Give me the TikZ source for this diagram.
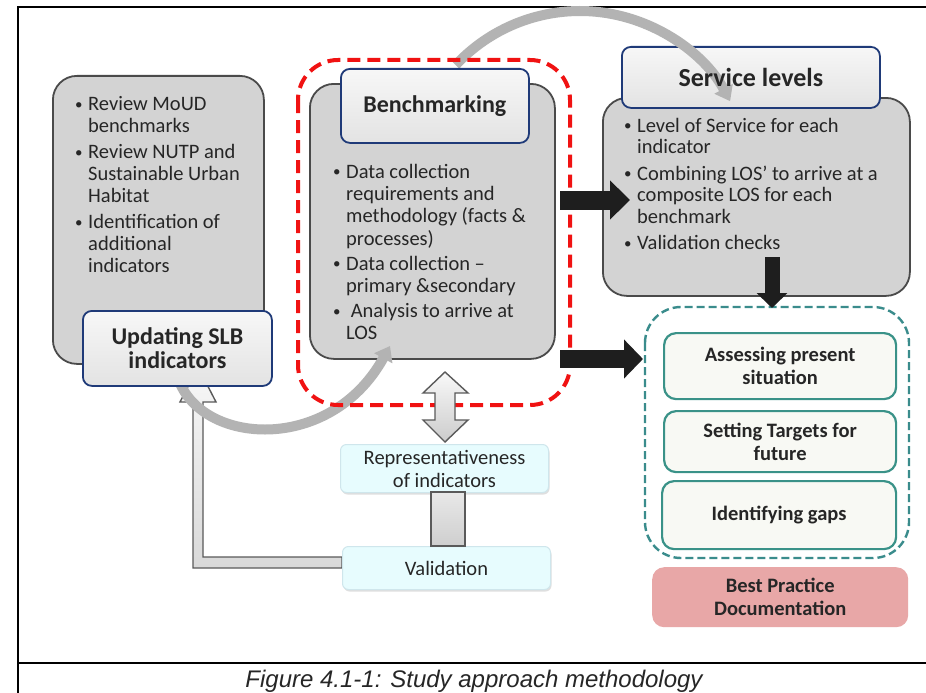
\documentclass[tikz,border=0pt]{standalone}
\usepackage{fontspec}
\setmainfont{Carlito}
\newfontfamily\capfont{Liberation Sans}
\usetikzlibrary{arrows.meta,shadows,calc}

\definecolor{boxgray}{HTML}{D3D3D3}
\definecolor{boxedge}{HTML}{4A4A4A}
\definecolor{hdrnavy}{HTML}{1F3A78}
\definecolor{hdrtop}{HTML}{F7F7F7}
\definecolor{hdrbot}{HTML}{E3E3E3}
\definecolor{stepteal}{HTML}{3A9288}
\definecolor{grpteal}{HTML}{3A8C8C}
\definecolor{stepfill}{HTML}{F8F9F4}
\definecolor{rosefill}{HTML}{E8A7A7}
\definecolor{cyanfill}{HTML}{E7FCFE}
\definecolor{cyanedge}{HTML}{CFE6EC}
\definecolor{arcgray}{HTML}{B3B3B3}
\definecolor{ink}{HTML}{262626}
\definecolor{dashred}{HTML}{F01212}
\definecolor{blockedge}{HTML}{5A5A5A}
\definecolor{arrowblack}{HTML}{1E1E1E}

% small list bullet
\newcommand{\listdot}{\raisebox{1.3pt}{\fontsize{15}{15}\selectfont\textbullet}}

\tikzset{
  every node/.style={text=ink},
  graybox/.style={draw=boxedge, line width=1.8pt, fill=boxgray, rounded corners=24pt, inner sep=0pt},
  hdrbox/.style={draw=hdrnavy, line width=1.8pt, top color=hdrtop, bottom color=hdrbot, rounded corners=9pt, inner sep=0pt, align=center},
  stepbox/.style={draw=stepteal, line width=2.2pt, fill=stepfill, rounded corners=12pt, inner sep=0pt, align=center,
    font=\bfseries\fontsize{20.5}{23}\selectfont},
  cyanbox/.style={draw=cyanedge, line width=1pt, fill=cyanfill, rounded corners=6pt, inner sep=0pt, align=center,
    drop shadow={shadow xshift=1pt, shadow yshift=-2pt, opacity=0.25},
    font=\fontsize{20.5}{23}\selectfont},
  bullets/.style={inner sep=0pt, anchor=base west},
  arcline/.style={draw=arcgray, line width=10pt, -{Triangle[width=20pt,length=14pt]}},
  reddash/.style={draw=dashred, line width=4pt, dash pattern=on 13pt off 7pt, rounded corners=40pt},
  tealdash/.style={draw=grpteal, line width=2.4pt, dash pattern=on 8pt off 4pt, rounded corners=36pt},
  blockarrow/.style={draw=blockedge, line width=1.4pt},
}

\begin{document}
\begin{tikzpicture}[x=1pt,y=-1pt]
\useasboundingbox (0,0) rectangle (926,693);
\fill[white] (0,0) rectangle (926,693);

% page frame and caption rule
\draw[line width=2.8pt] (926,7) -- (18,7) -- (18,693);
\draw[line width=2.4pt] (18,663) -- (926,663);

% ---------------- Service levels ----------------
\node[graybox, anchor=north west, minimum width=307pt, minimum height=198pt] (svcbox) at (602,97) {};
\node[hdrbox, anchor=north west, minimum width=258pt, minimum height=61pt] (svchead) at (621,46) {};

% arc from Benchmarking to Service levels
\coordinate (arcc) at (580,181);
\coordinate (arcstart) at ($(arcc)+(-137:170)$);
\draw[arcline] (arcstart) arc[start angle=-137, end angle=-28, radius=170];

\node[font=\bfseries\fontsize{26}{26}\selectfont] (svctitle) at (svchead.center) {Service levels};

\node[bullets, font=\fontsize{20.5}{21.5}\selectfont] (svclist) at (624,132) {%
\begin{tabular}[t]{@{}p{13pt}@{}l@{}}
\listdot & Level of Service for each\\
 & indicator\\[5pt]
\listdot & Combining LOS’ to arrive at a\\
 & composite LOS for each\\
 & benchmark\\[5pt]
\listdot & Validation checks
\end{tabular}};

% ---------------- Benchmarking ----------------
\node[graybox, anchor=north west, minimum width=245pt, minimum height=275pt] (benchbox) at (309,83) {};
\node[hdrbox, anchor=north west, minimum width=188pt, minimum height=74pt,
      font=\bfseries\fontsize{24}{24}\selectfont] (benchhead) at (340,68) {Benchmarking};

\node[bullets, font=\fontsize{20.5}{22.4}\selectfont] (benchlist) at (333,178) {%
\begin{tabular}[t]{@{}p{13pt}@{}l@{}}
\listdot & Data collection\\
 & requirements and\\
 & methodology (facts \&\\
 & processes)\\[2.5pt]
\listdot & Data collection –\\
 & primary \&secondary\\[2.5pt]
\listdot & \ Analysis to arrive at\\
 & LOS
\end{tabular}};

% ---------------- Updating SLB indicators ----------------
\node[graybox, anchor=north west, minimum width=211pt, minimum height=288pt] (slbbox) at (52,75) {};
\node[bullets, font=\fontsize{20.5}{22}\selectfont] (slblist) at (75,110.7) {%
\begin{tabular}[t]{@{}p{13pt}@{}l@{}}
\listdot & Review MoUD\\
 & benchmarks\\[4pt]
\listdot & Review NUTP and\\
 & Sustainable Urban\\
 & Habitat\\[4pt]
\listdot & Identification of\\
 & additional\\
 & indicators
\end{tabular}};

% feedback arrow from Validation back to Updating SLB indicators
\draw[blockarrow, top color=gray!6, bottom color=gray!30]
  (342,557) -- (203,557) -- (203,402) -- (216,402) -- (198,367) -- (180,402)
  -- (193,402) -- (193,568) -- (342,568) -- cycle;

% arc from Updating SLB indicators to Benchmarking
\coordinate (loopstart) at (178,378);
\coordinate (loopend) at (390,346);
\draw[arcline] (loopstart) .. controls (200,445) and (330,455) .. (loopend);

\node[hdrbox, anchor=north west, minimum width=189pt, minimum height=75pt,
      font=\bfseries\fontsize{24}{24}\selectfont] (slbhead) at (82,310) {Updating SLB\\indicators};

% dashed frame around Benchmarking
\draw[reddash] (298,60) rectangle (570,405);

% ---------------- Representativeness / Validation ----------------
\draw[blockarrow, top color=gray!5, bottom color=gray!40]
  (445,372) -- (468,393) -- (455,393) -- (455,420) -- (468,420) -- (445,442)
  -- (423,420) -- (435,420) -- (435,393) -- (423,393) -- cycle;

\node[cyanbox, anchor=north west, minimum width=208pt, minimum height=48pt] (repr) at (340,444)
  {Representativeness\\of indicators};
\node[cyanbox, anchor=north west, minimum width=208pt, minimum height=43pt] (valid) at (342,546)
  {Validation};
\draw[blockarrow, top color=gray!18, bottom color=gray!38] (431,492) rectangle (465,546);

% ---------------- outcomes group ----------------
\draw[tealdash] (645,307) rectangle (909,558);
\node[stepbox, anchor=north west, minimum width=232pt, minimum height=66pt] (assess) at (663,332)
  {Assessing present\\situation};
\node[stepbox, anchor=north west, minimum width=232pt, minimum height=61pt] (target) at (663,410)
  {Setting Targets for\\future};
\node[stepbox, anchor=north west, minimum width=234pt, minimum height=68pt] (gaps) at (661,480)
  {Identifying gaps};
\node[anchor=north west, fill=rosefill, rounded corners=12pt, inner sep=0pt, align=center,
      minimum width=256pt, minimum height=60pt,
      font=\bfseries\fontsize{20.5}{23}\selectfont] (bestpr) at (652,567)
  {Best Practice\\Documentation};

% ---------------- solid flow arrows ----------------
\coordinate (f1s) at (560,200);
\coordinate (f1e) at (630,200);
\draw[draw=arrowblack, line width=19pt, -{Triangle[width=38pt,length=20pt]}] (f1s) -- (f1e);
\coordinate (f2s) at (560,359);
\coordinate (f2e) at (643,359);
\draw[draw=arrowblack, line width=18pt, -{Triangle[width=38pt,length=19pt]}] (f2s) -- (f2e);
\coordinate (f3s) at (772,257);
\coordinate (f3e) at (772,308);
\draw[draw=arrowblack, line width=15pt, -{Triangle[width=30pt,length=15pt]}] (f3s) -- (f3e);

% caption
\node[anchor=base, text=black!85, font=\capfont\itshape\fontsize{24}{24}\selectfont] (caption) at (474,687)
  {Figure 4.1-1: Study approach methodology};
\end{tikzpicture}
\end{document}
